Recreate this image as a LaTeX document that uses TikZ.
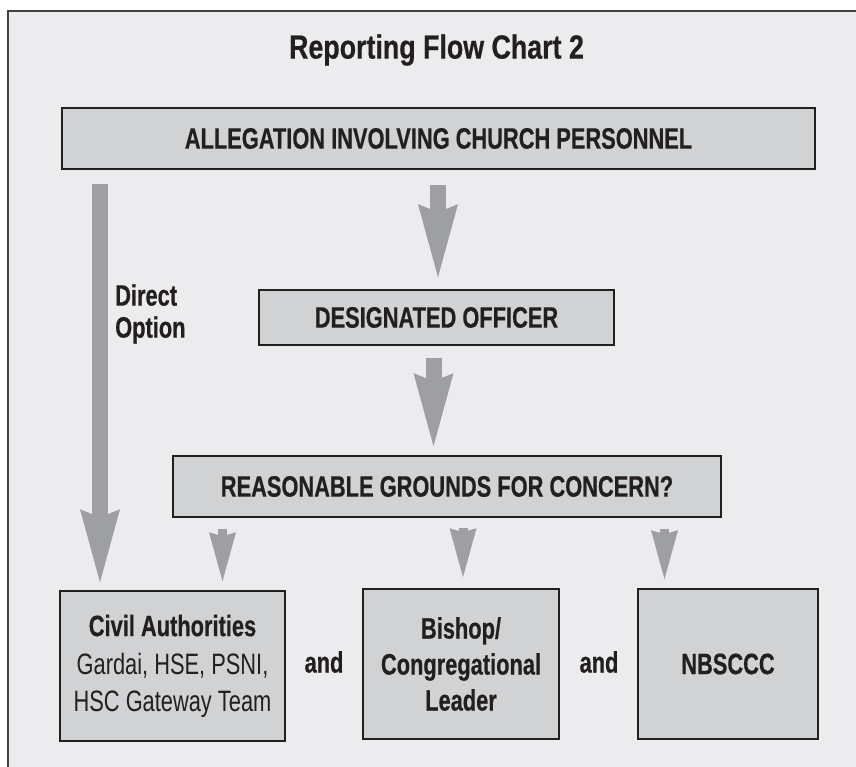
\documentclass[tikz,border=0pt]{standalone}
\usepackage{fontspec}
\usetikzlibrary{arrows.meta,calc}
\newfontfamily\cond[FakeStretch=0.74, BoldFeatures={FakeBold=0.5}]{Liberation Sans}
\newfontfamily\condt[FakeStretch=0.80, BoldFeatures={FakeBold=0.5}]{Liberation Sans}
\definecolor{bgc}{HTML}{ECECEE}
\definecolor{boxc}{HTML}{D1D2D4}
\definecolor{arrc}{HTML}{9D9FA2}
\definecolor{inkc}{HTML}{231F20}
\tikzset{
  flowbox/.style={draw=inkc, line width=1.6pt, fill=boxc, text=inkc, inner sep=0pt,
    font=\cond\bfseries\fontsize{29.5}{37}\selectfont, align=center},
  plaintext/.style={text=inkc, inner sep=0pt, font=\cond\bfseries\fontsize{29.5}{32}\selectfont},
  bigarrow/.style={draw=arrc, line width=16pt,
    -{Stealth[length=73pt, width=40pt, inset=8pt, line width=0pt]}},
  smallarrow/.style={draw=arrc, line width=9pt,
    -{Stealth[length=49pt, width=27pt, inset=4pt, line width=0pt]}}
}
\begin{document}
\begin{tikzpicture}[x=1pt,y=-1pt]
\useasboundingbox (0,0) rectangle (856,767);
\fill[white] (0,0) rectangle (856,767);
\fill[bgc] (8,11) rectangle (856,767);
\draw[inkc!85, line width=1.5pt] (8,767) -- (8,11) -- (856,11);

\node[plaintext, font=\condt\bfseries\fontsize{33.5}{38}\selectfont] (title) at (436.5,50) {Reporting Flow Chart 2};

\node[flowbox, minimum width=753pt, minimum height=61pt] (alleg) at (438.5,138.5) {ALLEGATION INVOLVING CHURCH PERSONNEL};
\node[flowbox, minimum width=355pt, minimum height=55pt] (desig) at (436.5,317.5) {DESIGNATED OFFICER};
\node[flowbox, minimum width=548pt, minimum height=61pt] (reason) at (447,486.5) {REASONABLE GROUNDS FOR CONCERN?};

\node[flowbox, minimum width=225pt, minimum height=150pt] (civil) at (172.5,666)
  {Civil Authorities\\[1pt]\mdseries Gardai, HSE, PSNI,\\\mdseries HSC Gateway Team};
\node[flowbox, minimum width=196pt, minimum height=150pt] (bishop) at (461,664)
  {Bishop/\\[-1pt]Congregational\\[-1pt]Leader};
\node[flowbox, minimum width=180pt, minimum height=150pt] (nbs) at (728,664) {NBSCCC};

\node[plaintext] (and1) at (324,662) {and};
\node[plaintext] (and2) at (599,662) {and};
\node[plaintext, anchor=west, align=left] (direct) at (115,314) {Direct\\Option};

\coordinate (xl) at (100,0);
\coordinate (x1) at (438,0);
\coordinate (x2) at (433.5,0);
\coordinate (xa) at (222.5,0);
\coordinate (xb) at (463,0);
\coordinate (xc) at (664.5,0);

\draw[bigarrow, shorten <=14pt, shorten >=8pt] (alleg.south -| xl) -- (civil.north -| xl);
\draw[bigarrow, shorten <=15pt, shorten >=12pt] (alleg.south -| x1) -- (desig.north -| x1);
\draw[bigarrow, shorten <=12pt, shorten >=9pt] (desig.south -| x2) -- (reason.north -| x2);
\draw[smallarrow, shorten <=11pt, shorten >=9pt] (reason.south -| xa) -- (civil.north -| xa);
\draw[smallarrow, shorten <=10pt, shorten >=11pt] (reason.south -| xb) -- (bishop.north -| xb);
\draw[smallarrow, shorten <=11pt, shorten >=9pt] (reason.south -| xc) -- (nbs.north -| xc);
\end{tikzpicture}
\end{document}
